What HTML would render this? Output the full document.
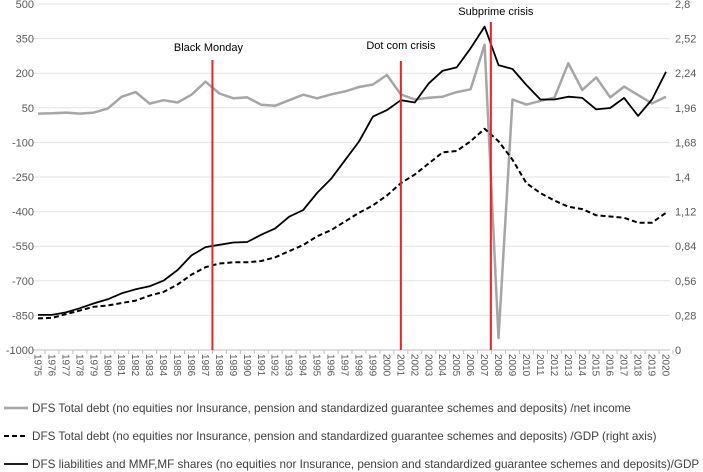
<!DOCTYPE html>
<html><head><meta charset="utf-8"><style>
body{margin:0;background:#fff;font-family:"Liberation Sans",sans-serif;}
svg{display:block}
</style></head><body>
<svg id="chart" width="703" height="472" viewBox="0 0 703 472" xmlns="http://www.w3.org/2000/svg"></svg>
<script>
const years = [];
for (let y = 1975; y <= 2020; y++) years.push(y);
const leftTicks = [500,350,200,50,-100,-250,-400,-550,-700,-850,-1000];
const rightTicks = ["2,8","2,52","2,24","1,96","1,68","1,4","1,12","0,84","0,56","0,28","0"];
const grayDebtIncome = [25,26,29,25,29,47,98,118,68,83,73,107,163,112,91,95,63,59,83,107,91,108,121,140,151,192,108,86,94,98,118,130,323,-948,86,64,80,94,243,127,182,95,142,105,69,98];
const dashedDebtGdp = [0.256,0.26,0.29,0.32,0.35,0.36,0.38,0.40,0.44,0.47,0.53,0.61,0.67,0.70,0.71,0.71,0.72,0.75,0.80,0.85,0.92,0.97,1.04,1.11,1.17,1.25,1.35,1.42,1.51,1.60,1.61,1.69,1.79,1.69,1.54,1.35,1.27,1.21,1.16,1.14,1.09,1.08,1.07,1.03,1.03,1.11];
const solidLiabGdp = [-848,-848,-837,-819,-798,-780,-754,-737,-724,-699,-653,-590,-554,-544,-534,-532,-500,-473,-422,-393,-319,-258,-177,-96,12,40,83,73,156,211,225,308,402,235,218,149,86,86,98,93,43,49,93,15,86,206];
const events = ["Black Monday","Dot com crisis","Subprime crisis"];
const eventYears = [1987.5,2001,2007.45];

const NS="http://www.w3.org/2000/svg";
const svg=document.getElementById('chart');
const X0=38, X1=666, YT=4, YB=350;
const xs = yr => X0 + (yr-1975)*(X1-X0)/45;
const yl = v => YB - (v+1000)*(YB-YT)/1500;
const yr2 = v => YB - v*(YB-YT)/2.8;
function mk(tag, attrs, text){const e=document.createElementNS(NS,tag);for(const k in attrs)e.setAttribute(k,attrs[k]);if(text!==undefined)e.textContent=text;svg.appendChild(e);return e;}

leftTicks.forEach((v,i)=>{
  const y=yl(v);
  const g=mk('line',{x1:X0-6,x2:X1+4,y1:y,y2:y,stroke:i===leftTicks.length-1?'#bfbfbf':'#e3e3e3','stroke-width':1});
  
  
  const t=mk('text',{x:34,y:y+4,'text-anchor':'end','font-size':11,fill:'#595959'},v);
  
  
  const r=mk('text',{x:675,y:y+4,'font-size':11,fill:'#595959'},rightTicks[i]);
  
  
});
years.forEach(yr=>{
  const x=xs(yr);
  const tk=mk('line',{x1:x+6.98,x2:x+6.98,y1:YB,y2:YB+4,stroke:'#bfbfbf'});
  
  
  const t=mk('text',{x:0,y:0,'font-size':10,fill:'#595959',transform:`translate(${x-3.5},354) rotate(90)`},yr);
  
  
});
function line(vals, fy, attrs, name){
  const d=vals.map((v,i)=>(i?'L':'M')+xs(years[i]).toFixed(1)+','+fy(v).toFixed(1)).join(' ');
  const p=mk('path',Object.assign({d,fill:'none','stroke-linejoin':'round'},attrs));
  
  
}
line(grayDebtIncome, yl, {stroke:'#a6a6a6','stroke-width':2.5}, 'series-debt-net-income');
line(dashedDebtGdp, yr2, {stroke:'#000','stroke-width':2,'stroke-dasharray':'5,3'}, 'series-debt-gdp-right');
line(solidLiabGdp, yl, {stroke:'#000','stroke-width':1.8}, 'series-liabilities-gdp');

const labelY=[51,49,15], lineTop=[60,61,22];
events.forEach((ev,i)=>{
  const x=xs(eventYears[i]);
  const l=mk('line',{x1:x,x2:x,y1:lineTop[i],y2:YB,stroke:'#ee2222','stroke-width':2});
  
  
  const t=mk('text',{x:x+(i===0?-4:i===2?5:0),y:labelY[i],'text-anchor':'middle','font-size':11,fill:'#000'},ev);
  
  
});

const legendText=["DFS Total debt (no equities nor Insurance, pension and standardized guarantee schemes and deposits) /net income",
"DFS Total debt (no equities nor Insurance, pension and standardized guarantee schemes and deposits) /GDP (right axis)",
"DFS liabilities and MMF,MF shares (no equities nor Insurance, pension and standardized guarantee schemes and deposits)/GDP"];
const legStyles=[{stroke:'#a6a6a6','stroke-width':2.5},{stroke:'#000','stroke-width':2,'stroke-dasharray':'5,3'},{stroke:'#000','stroke-width':1.8}];
[408,436,464].forEach((y,i)=>{
  const l=mk('line',Object.assign({x1:4,x2:28,y1:y,y2:y},legStyles[i]));
  
  
  const t=mk('text',{x:32,y:y+4,'font-size':11.7,fill:'#404040'},legendText[i]);
  
  
});
</script>
</body></html>
